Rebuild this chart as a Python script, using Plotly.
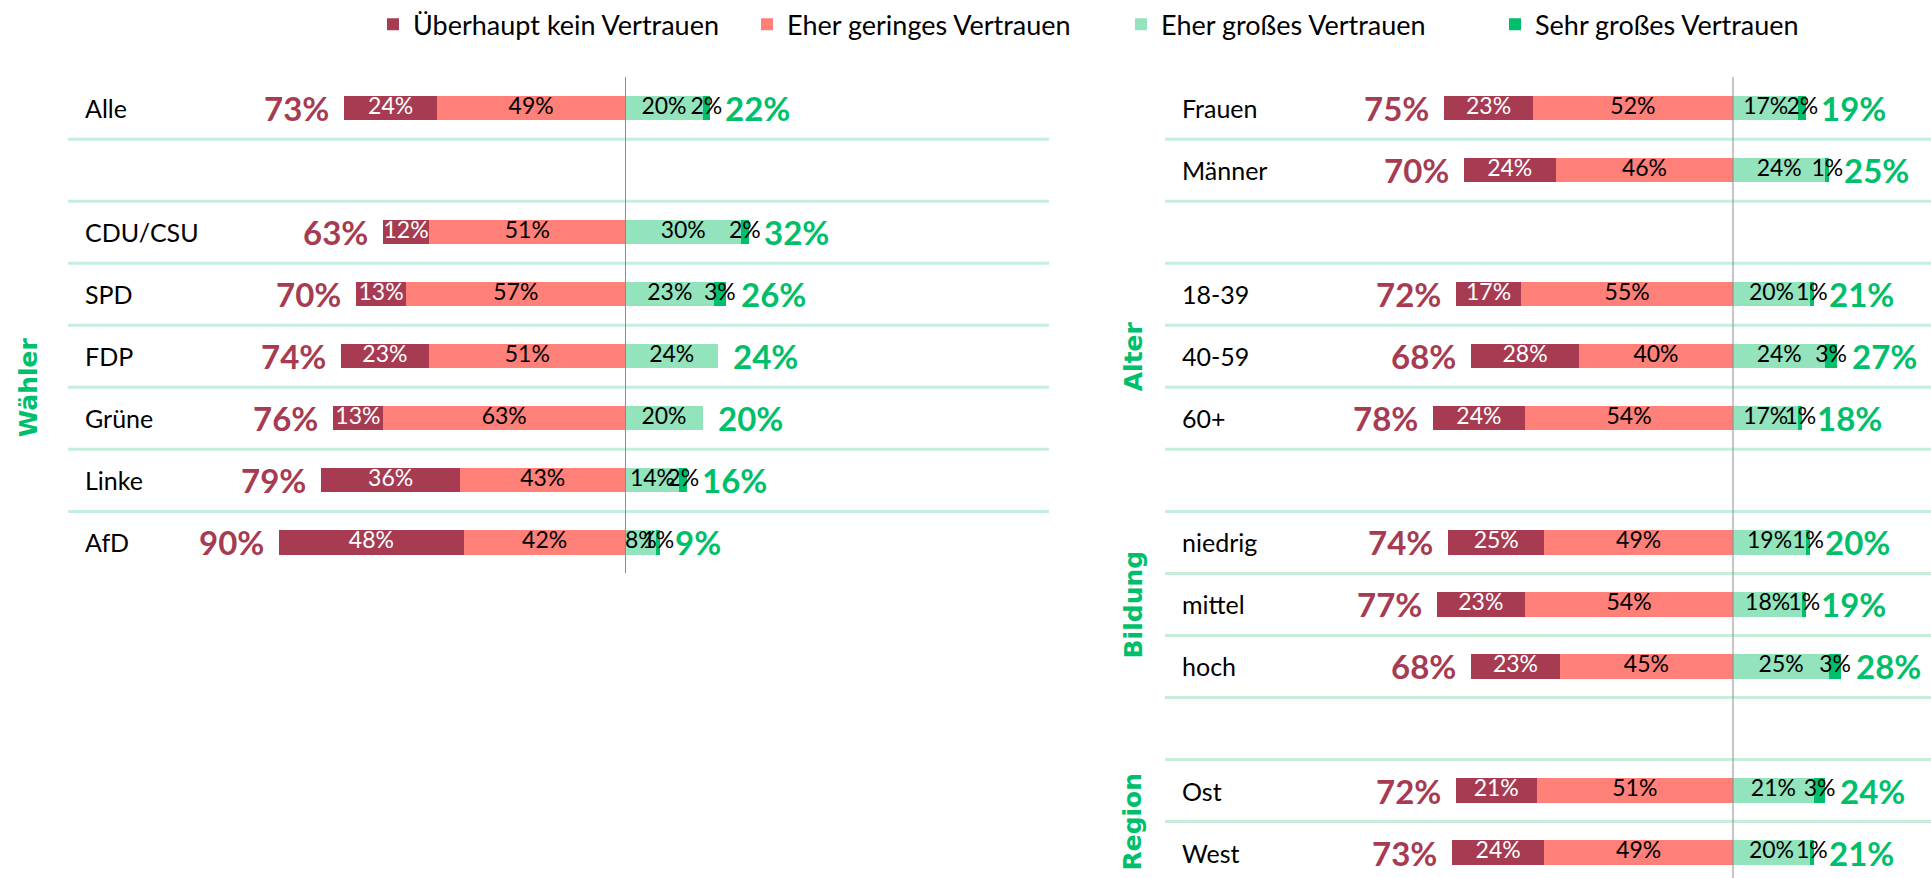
import plotly.graph_objects as go

W, H = 1931, 878

# ---------------- data ----------------
series_names = ["Überhaupt kein Vertrauen", "Eher geringes Vertrauen",
                "Eher großes Vertrauen", "Sehr großes Vertrauen"]

left_labels = ["Alle", "", "CDU/CSU", "SPD", "FDP", "Grüne", "Linke", "AfD"]
left_kein = [24, None, 12, 13, 23, 13, 36, 48]
left_gering = [49, None, 51, 57, 51, 63, 43, 42]
left_gross = [20, None, 30, 23, 24, 20, 14, 8]
left_sehr = [2, None, 2, 3, 0, 0, 2, 1]
left_neg_total = [73, None, 63, 70, 74, 76, 79, 90]
left_pos_total = [22, None, 32, 26, 24, 20, 16, 9]

right_labels = ["Frauen", "Männer", "", "18-39", "40-59", "60+", "",
                "niedrig", "mittel", "hoch", "", "Ost", "West"]
right_kein = [23, 24, None, 17, 28, 24, None, 25, 23, 23, None, 21, 24]
right_gering = [52, 46, None, 55, 40, 54, None, 49, 54, 45, None, 51, 49]
right_gross = [17, 24, None, 20, 24, 17, None, 19, 18, 25, None, 21, 20]
right_sehr = [2, 1, None, 1, 3, 1, None, 1, 1, 3, None, 3, 1]
right_neg_total = [75, 70, None, 72, 68, 78, None, 74, 77, 68, None, 72, 73]
right_pos_total = [19, 25, None, 21, 27, 18, None, 20, 19, 28, None, 24, 21]

group_names = ["Wähler", "Alter", "Bildung", "Region"]
group_first = ["CDU/CSU", "18-39", "niedrig", "Ost"]
group_last = ["AfD", "60+", "hoch", "West"]

# ---------------- styles ----------------
C_KEIN = "#A63B51"
C_GERING = "#FF7F79"
C_GROSS = "#93E3BC"
C_SEHR = "#00BF6B"
C_SEP = "#C6EFDB"
C_ZERO = "#8C8C8C"
colors = [C_KEIN, C_GERING, C_GROSS, C_SEHR]
seg_text_colors = ["white", "black", "black", "black"]

FONT = "Lato, 'Open Sans', 'Noto Sans', sans-serif"
GFONT = "'DejaVu Sans', Verdana, sans-serif"

PX = 3.85          # pixels per percent
ROW0 = 105.5       # pixel y of first row
ROWH = 62.25       # pixel row spacing
ZL, ZR = 625.5, 1733.0   # zero line pixel x for left/right panels
L_DOM = (0, 1049)
R_DOM = (1100, W)

fig = go.Figure()


def add_panel(labels, kein, gering, gross, sehr, neg_tot, pos_tot, xa, show_legend):
    rows = list(range(len(labels)))
    segs = [kein, gering, gross, sehr]
    bases = [
        [None if k is None else -(k + g) for k, g in zip(kein, gering)],
        [None if g is None else -g for g in gering],
        [None if g is None else 0 for g in gross],
        [None if g is None else g for g in gross],
    ]
    for i in range(4):
        fig.add_trace(go.Bar(
            x=segs[i], y=rows, base=bases[i], orientation="h",
            name=series_names[i], legendgroup=series_names[i],
            showlegend=show_legend, marker=dict(color=colors[i], line=dict(width=0)),
            width=0.39, xaxis=xa, yaxis="y", hoverinfo="skip",
        ))
    # segment labels
    for i in range(4):
        xs, ys, ts = [], [], []
        for r, (v, b) in enumerate(zip(segs[i], bases[i])):
            if v is None or v == 0:
                continue
            xs.append(b + v / 2)
            ys.append(r)
            ts.append(f"{v}%")
        fig.add_trace(go.Scatter(
            x=xs, y=ys, text=ts, mode="text", textposition="middle center",
            textfont=dict(family=FONT, size=23, color=seg_text_colors[i]),
            showlegend=False, hoverinfo="skip", xaxis=xa, yaxis="y",
        ))
    # totals
    axref = "x" if xa == "x" else "x2"
    for r, (n, p) in enumerate(zip(neg_tot, pos_tot)):
        if n is None:
            continue
        fig.add_annotation(x=-n, y=r, xref=axref, yref="y", text=f"<b>{n}%</b>",
                           showarrow=False, xanchor="right", xshift=-13,
                           font=dict(family=FONT, size=33, color=C_KEIN))
        fig.add_annotation(x=p, y=r, xref=axref, yref="y", text=f"<b>{p}%</b>",
                           showarrow=False, xanchor="left", xshift=13,
                           font=dict(family=FONT, size=33, color=C_SEHR))


add_panel(left_labels, left_kein, left_gering, left_gross, left_sehr,
          left_neg_total, left_pos_total, "x", True)
add_panel(right_labels, right_kein, right_gering, right_gross, right_sehr,
          right_neg_total, right_pos_total, "x2", False)

# category labels
for labels, px in ((left_labels, 83), (right_labels, 1180)):
    for r, lab in enumerate(labels):
        if lab:
            fig.add_annotation(x=px / W, y=r, xref="paper", yref="y", text=lab,
                               showarrow=False, xanchor="left",
                               font=dict(family=FONT, size=25, color="black"))

# separator lines
for labels, (x0, x1) in ((left_labels, (68, 1049)), (right_labels, (1165, W))):
    for r in range(len(labels) - 1):
        fig.add_shape(type="line", xref="paper", yref="y", x0=x0 / W, x1=x1 / W,
                      y0=r + 0.5, y1=r + 0.5, line=dict(color=C_SEP, width=3),
                      layer="below")

# zero lines
y_bottom = (H - ROW0) / ROWH
y_top = -ROW0 / ROWH
fig.add_shape(type="line", xref="x", yref="y", x0=0, x1=0, y0=-0.5,
              y1=len(left_labels) - 0.5, line=dict(color=C_ZERO, width=1), layer="above")
fig.add_shape(type="line", xref="x2", yref="y", x0=0, x1=0, y0=-0.5,
              y1=y_bottom, line=dict(color=C_ZERO, width=1), layer="above")

# group labels
for name, a, b in zip(group_names, group_first, group_last):
    if a in left_labels:
        ia, ib = left_labels.index(a), left_labels.index(b)
        gx = 28
    else:
        ia, ib = right_labels.index(a), right_labels.index(b)
        gx = 1133
    fig.add_annotation(x=gx / W, y=(ia + ib) / 2, xref="paper", yref="y",
                       text=f"<b>{name}</b>", showarrow=False, textangle=-90,
                       xanchor="center", yanchor="middle",
                       font=dict(family=GFONT, size=25, color=C_SEHR))

fig.update_layout(
    width=W, height=H, margin=dict(l=0, r=0, t=0, b=0),
    paper_bgcolor="white", plot_bgcolor="white",
    barmode="overlay", bargap=0,
    xaxis=dict(domain=[L_DOM[0] / W, L_DOM[1] / W],
               range=[(L_DOM[0] - ZL) / PX, (L_DOM[1] - ZL) / PX],
               visible=False, fixedrange=True),
    xaxis2=dict(domain=[R_DOM[0] / W, R_DOM[1] / W],
                range=[(R_DOM[0] - ZR) / PX, (R_DOM[1] - ZR) / PX],
                visible=False, anchor="y", fixedrange=True),
    yaxis=dict(domain=[0, 1], range=[y_bottom, y_top], visible=False, fixedrange=True),
    legend=dict(orientation="h", x=373 / W, xanchor="left", y=1 - 21.7 / H,
                yanchor="middle", font=dict(family=FONT, size=27, color="black"),
                entrywidth=329, entrywidthmode="pixels", traceorder="normal",
                bgcolor="rgba(0,0,0,0)"),
    showlegend=True,
)

fig.write_html("out.html", config={"displayModeBar": False},
               post_script="document.body.style.margin='0';")
